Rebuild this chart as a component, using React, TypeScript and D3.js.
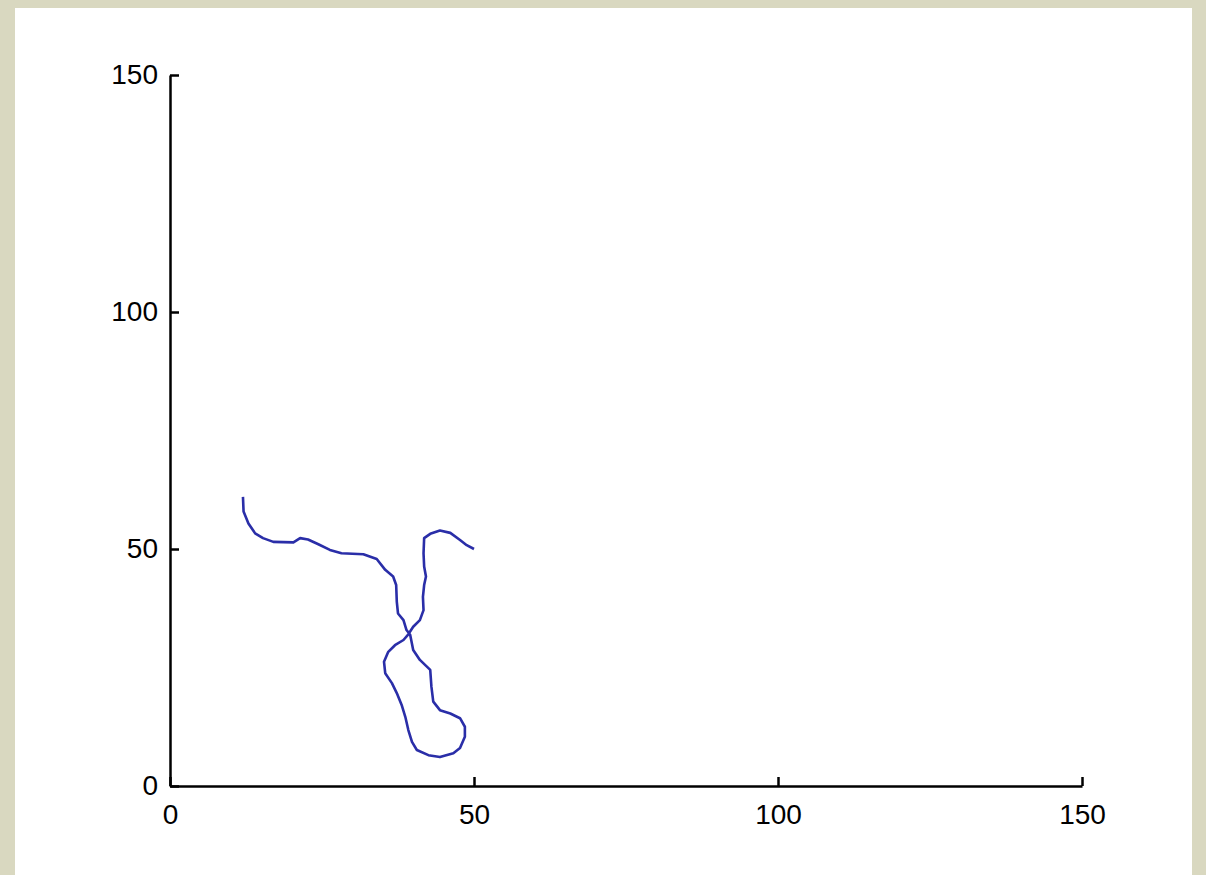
import React, { useEffect, useRef } from 'react';
import * as d3 from 'd3';

// trajectory (x, y)
const pathX = [
  12, 12.1, 12.9, 14.0, 15.3, 17.0, 20.3, 21.4, 22.7, 24.4, 26.3, 28.2, 31.8, 34.0, 35.4, 36.7,
  37.2, 37.3, 37.5, 38.4, 38.9, 39.5, 40.0, 41.1, 42.8, 43.0, 43.3, 44.4, 46.1, 47.7, 48.5, 48.5,
  47.7, 46.6, 44.4, 42.5, 40.6, 39.8, 39.2, 38.7, 38.1, 37.3, 36.5, 35.4, 35.2, 35.9, 37.0, 38.4,
  39.2, 40.0, 41.1, 41.7, 41.6, 41.8, 42.1, 41.8, 41.7, 41.8, 42.8, 44.4, 46.1, 47.7, 48.8, 50,
];
const pathY = [
  61, 57.9, 55.4, 53.3, 52.3, 51.5, 51.4, 52.3, 52.0, 51.0, 49.8, 49.1, 48.9, 47.9, 45.6, 44.2,
  42.4, 38.9, 36.4, 35.0, 32.9, 31.9, 28.7, 26.6, 24.5, 20.9, 17.8, 16.0, 15.3, 14.3, 12.5, 10.4,
  8.0, 6.9, 6.1, 6.5, 7.6, 9.3, 11.8, 14.6, 17.1, 19.6, 21.7, 23.8, 26.2, 28.3, 29.7, 30.8,
  32.0, 33.6, 35.0, 37.1, 39.9, 42.4, 44.2, 46.3, 49.1, 52.3, 53.2, 53.9, 53.4, 51.9, 50.8, 50,
];
const xTicks = [0, 50, 100, 150];
const yTicks = [0, 50, 100, 150];

const W = 1206;
const H = 875;

const App: React.FC = () => {
  const svgRef = useRef<SVGSVGElement>(null);

  useEffect(() => {
    if (!svgRef.current) return;
    const svg = d3.select(svgRef.current);
    svg.selectAll('*').remove();

    // beige page background + white figure
    svg.append('rect').attr('width', W).attr('height', H).attr('fill', '#d9d8c0');
    svg.append('rect')
      .attr('x', 15).attr('y', 8)
      .attr('width', 1177).attr('height', H - 8)
      .attr('fill', '#ffffff');

    const x = d3.scaleLinear().domain([0, 150]).range([170, 1082]);
    const y = d3.scaleLinear().domain([0, 150]).range([786, 75]);

    const font = '"Liberation Sans", Arial, sans-serif';

    const gx = svg.append('g')
      .attr('transform', `translate(0,${y(0)})`)
      .call(d3.axisBottom(x).tickValues(xTicks).tickSize(-9).tickSizeOuter(0).tickPadding(18).tickFormat(d3.format('d')));
    const gy = svg.append('g')
      .attr('transform', `translate(${x(0)},0)`)
      .call(d3.axisLeft(y).tickValues(yTicks).tickSize(-9).tickSizeOuter(0).tickPadding(12).tickFormat(d3.format('d')));

    [gx, gy].forEach(g => {
      g.select('.domain').attr('stroke', '#000').attr('stroke-width', 2.5);
      g.selectAll('.tick line').attr('stroke', '#000').attr('stroke-width', 2.5);
      g.selectAll('.tick text')
        .attr('fill', '#000')
        .style('font-family', font)
        .style('font-size', '28px');
    });

    const pts: [number, number][] = pathX.map((v, i) => [v, pathY[i]]);
    const line = d3.line<[number, number]>()
      .x(d => x(d[0]))
      .y(d => y(d[1]));

    svg.append('path')
      .datum(pts)
      .attr('d', line)
      .attr('fill', 'none')
      .attr('stroke', '#2a2ea8')
      .attr('stroke-width', 2.6)
      .attr('stroke-linejoin', 'round');
  }, []);

  return (
    <div style={{ position: 'fixed', left: 0, top: 0 }}>
      <svg ref={svgRef} width={W} height={H} style={{ display: 'block' }} />
    </div>
  );
};

export default App;
